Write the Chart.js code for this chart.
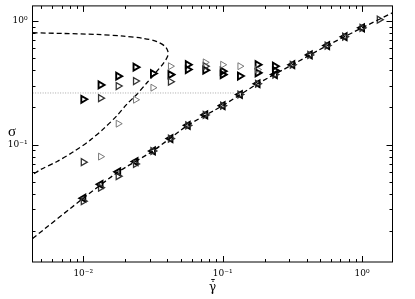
<!DOCTYPE html>
<html>
<head>
<meta charset="utf-8">
<script src="https://cdn.jsdelivr.net/npm/chart.js@4.4.0/dist/chart.umd.min.js"></script>
<style>
  html, body { margin: 0; padding: 0; background: #fff; }
</style>
</head>
<body>
<canvas id="flowCurve" width="415" height="299"></canvas>
<script>
// shear rate columns (8 per decade)
const rateCols = [0.01, 0.0133, 0.0178, 0.0237, 0.0316, 0.0422, 0.0562, 0.075, 0.1,
  0.133, 0.178, 0.237, 0.316, 0.422, 0.562, 0.75, 1.0, 1.33];

// open right triangles, heavy
const heavyX = [0.01, 0.0133, 0.0178, 0.0237, 0.0316, 0.0422, 0.0562, 0.0562, 0.075, 0.1, 0.1, 0.133, 0.178, 0.178, 0.237, 0.237];
const heavyY = [0.233, 0.304, 0.358, 0.423, 0.376, 0.369, 0.443, 0.405, 0.400, 0.393, 0.369, 0.359, 0.443, 0.381, 0.431, 0.398];

// open right triangles, medium
const mediumX = [0.01, 0.0133, 0.0178, 0.0237, 0.0422, 0.075];
const mediumY = [0.0724, 0.238, 0.298, 0.327, 0.323, 0.431];

// open right triangles, light
const lightX = [0.0133, 0.0178, 0.0237, 0.0316, 0.0422, 0.075, 0.1, 0.133, 0.178];
const lightY = [0.0802, 0.148, 0.231, 0.289, 0.431, 0.463, 0.443, 0.431, 0.405];

// left triangles sitting on the lower branch
const leftY = [0.037, 0.0479, 0.0604, 0.0732, 0.0891, 0.1122, 0.1435, 0.1742, 0.207,
  0.2546, 0.311, 0.369, 0.443, 0.532, 0.633, 0.746, 0.880];
// right triangles on the lower branch
const rightY = [0.035, 0.045, 0.0558, 0.070, 0.0891, 0.1122, 0.1435, 0.1742, 0.207,
  0.2546, 0.311, 0.369, 0.443, 0.532, 0.633, 0.746, 0.880, 1.024];

// dashed lower branch
const branchX = [0.00433, 0.01, 0.0178, 0.0316, 0.0562, 0.1, 0.178, 0.316, 0.562, 1.0, 1.654];
const branchY = [0.0175, 0.037, 0.0604, 0.0891, 0.1435, 0.207, 0.311, 0.443, 0.633, 0.880, 1.164];

// dashed nose curve
const noseX = [0.00433, 0.00723, 0.01254, 0.01946, 0.02705, 0.03374, 0.03872, 0.04046, 0.0402,
  0.03767, 0.03374, 0.02862, 0.02427, 0.02056, 0.01745, 0.014, 0.01122, 0.00852, 0.00648, 0.00492, 0.00433];
const noseY = [0.803, 0.792, 0.778, 0.754, 0.723, 0.681, 0.621, 0.567, 0.517,
  0.457, 0.393, 0.317, 0.256, 0.213, 0.172, 0.135, 0.109, 0.088, 0.0732, 0.0629, 0.0574];

// dotted plateau
const plateauX = [0.00433, 0.12];
const plateauY = [0.262, 0.262];

const xMajor = [0.01, 0.1, 1];
const xTickLabels = ['10\u207B\u00B2', '10\u207B\u00B9', '10\u2070'];
const yMajor = [0.1, 1];
const yTickLabels = ['10\u207B\u00B9', '10\u2070'];

const xMin = 0.00432, xMax = 1.654, yMin = 0.0113, yMax = 1.323;

const pts = (xs, ys) => xs.map((x, i) => ({ x: x, y: ys[i] }));

function decadeTicks(min, max) {
  const out = [];
  for (let e = Math.floor(Math.log10(min)); e <= Math.ceil(Math.log10(max)); e++) {
    for (let m = 1; m <= 9; m++) {
      const v = m * Math.pow(10, e);
      if (v >= min && v <= max) out.push({ value: v, major: m === 1 });
    }
  }
  return out;
}

function majorLabel(v, majors, labels) {
  for (let i = 0; i < majors.length; i++) {
    if (Math.abs(Math.log10(v) - Math.log10(majors[i])) < 1e-6) return labels[i];
  }
  return '';
}

// box + inward ticks on all four sides, plus the upright sigma
const frameTicks = {
  id: 'frameTicks',
  afterDraw(chart) {
    const ctx = chart.ctx, a = chart.chartArea;
    const xs = chart.scales.x, ys = chart.scales.y;
    ctx.save();
    ctx.strokeStyle = '#000';
    ctx.lineWidth = 1;
    ctx.strokeRect(a.left, a.top, a.right - a.left, a.bottom - a.top);
    ctx.beginPath();
    xs.ticks.forEach(t => {
      const p = Math.round(xs.getPixelForValue(t.value)) + 0.5;
      const len = t.major ? 6 : 3;
      ctx.moveTo(p, a.bottom); ctx.lineTo(p, a.bottom - len);
      ctx.moveTo(p, a.top); ctx.lineTo(p, a.top + len);
    });
    ys.ticks.forEach(t => {
      const p = Math.round(ys.getPixelForValue(t.value)) + 0.5;
      const len = t.major ? 6 : 3;
      ctx.moveTo(a.left, p); ctx.lineTo(a.left + len, p);
      ctx.moveTo(a.right, p); ctx.lineTo(a.right - len, p);
    });
    ctx.stroke();
    ctx.fillStyle = '#000';
    ctx.font = '15px "Liberation Serif"';
    ctx.textAlign = 'center';
    ctx.textBaseline = 'middle';
    ctx.fillText('\u03C3', 12, 132);
    ctx.restore();
  }
};

const tri = (label, data, rot, color, width) => ({
  label: label,
  data: data,
  pointStyle: 'triangle',
  rotation: rot,
  pointRadius: 4,
  pointBorderWidth: width,
  pointBorderColor: color,
  pointBackgroundColor: 'rgba(255,255,255,0)',
  showLine: false
});

new Chart(document.getElementById('flowCurve'), {
  type: 'scatter',
  data: {
    datasets: [
      { label: 'plateau', data: pts(plateauX, plateauY), showLine: true, pointRadius: 0,
        borderColor: '#a8a8a8', borderWidth: 1, borderDash: [1, 1.5] },
      { label: 'nose', data: pts(noseX, noseY), showLine: true, pointRadius: 0, tension: 0.3,
        borderColor: '#000', borderWidth: 1.3, borderDash: [5, 3] },
      { label: 'branch', data: pts(branchX, branchY), showLine: true, pointRadius: 0, tension: 0.2,
        borderColor: '#000', borderWidth: 1.3, borderDash: [5, 3] },
      tri('light', pts(lightX, lightY), 90, '#6a6a6a', 0.9),
      tri('medium', pts(mediumX, mediumY), 90, '#333', 1.3),
      tri('heavy', pts(heavyX, heavyY), 90, '#000', 1.9),
      tri('onRight', pts(rateCols, rightY), 90, '#333', 1.3),
      tri('onLeft', pts(rateCols.slice(0, 17), leftY), -90, '#000', 1.9)
    ]
  },
  options: {
    responsive: false,
    animation: false,
    layout: { padding: { left: 0, right: 22.5, top: 2, bottom: 0 } },
    plugins: { legend: { display: false }, tooltip: { enabled: false } },
    scales: {
      x: {
        type: 'logarithmic', min: xMin, max: xMax,
        grid: { display: false, drawTicks: false },
        border: { display: false },
        afterBuildTicks: s => { s.ticks = decadeTicks(s.min, s.max); },
        afterFit: s => { s.height = 37; s.paddingLeft = 0; s.paddingRight = 0; },
        ticks: {
          autoSkip: false, maxRotation: 0, padding: 6, color: '#000',
          font: { family: 'DejaVu Serif', size: 9 },
          callback: v => majorLabel(v, xMajor, xTickLabels)
        },
        title: {
          display: true, text: '\u03B3\u0307\u0304', color: '#000',
          font: { family: 'DejaVu Serif', size: 12 }, padding: { top: 0, bottom: 4 }
        }
      },
      y: {
        type: 'logarithmic', min: yMin, max: yMax,
        grid: { display: false, drawTicks: false },
        border: { display: false },
        afterBuildTicks: s => { s.ticks = decadeTicks(s.min, s.max); },
        afterFit: s => { s.width = 32.5; s.paddingTop = 0; s.paddingBottom = 0; },
        ticks: {
          autoSkip: false, padding: 5, color: '#000',
          font: { family: 'DejaVu Serif', size: 9 },
          callback: v => majorLabel(v, yMajor, yTickLabels)
        }
      }
    }
  },
  plugins: [frameTicks]
});
</script>
</body>
</html>
